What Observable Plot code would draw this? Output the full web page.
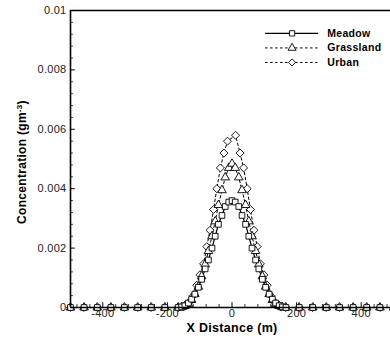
<!DOCTYPE html>
<html>
<head>
<meta charset="utf-8">
<script src="https://cdn.jsdelivr.net/npm/d3@7"></script>
<script src="https://cdn.jsdelivr.net/npm/@observablehq/plot@0.6"></script>
<style>
  html, body { margin: 0; padding: 0; background: #fff; width: 390px; height: 338px; overflow: hidden; }
  #chart { width: 390px; height: 338px; overflow: hidden; }
  #chart svg { max-width: none !important; }
</style>
</head>
<body>
<div id="chart"></div>
<script>
// ---- data ----
const seriesNames = ["Meadow", "Grassland", "Urban"];

const xMeadow = [-500, -458, -417, -375, -333, -292, -250, -208,
  -167, -156, -146, -135, -125, -115, -104, -94, -83, -73, -62, -52, -42, -31, -21, -10,
  0, 10, 21, 31, 42, 52, 62, 73, 83, 94, 104, 115, 125, 135, 146, 156, 167,
  208, 250, 292, 333, 375, 417, 458, 500];
const cMeadow = [0, 0, 0, 0, 0, 0, 0, 0,
  0, 0.00002, 0.00006, 0.00015, 0.00028, 0.00045, 0.00068, 0.00095, 0.0013, 0.0016, 0.0020, 0.0024, 0.0028, 0.0031, 0.0034, 0.00355,
  0.0036, 0.00355, 0.0034, 0.0031, 0.0028, 0.0024, 0.0020, 0.0016, 0.0013, 0.00095, 0.00068, 0.00045, 0.00028, 0.00015, 0.00006, 0.00002, 0,
  0, 0, 0, 0, 0, 0, 0, 0];

const xGrassland = [-500, -458, -417, -375, -333, -292, -250, -208,
  -167, -156, -146, -135, -125, -115, -104, -94, -83, -73, -62, -52, -42, -31, -21, -10,
  0, 10, 21, 31, 42, 52, 62, 73, 83, 94, 104, 115, 125, 135, 146, 156, 167,
  208, 250, 292, 333, 375, 417, 458, 500];
const cGrassland = [0, 0, 0, 0, 0, 0, 0, 0,
  0, 0.00001, 0.00005, 0.00012, 0.00025, 0.00045, 0.0007, 0.00105, 0.00145, 0.0019, 0.0024, 0.0029, 0.00345, 0.00395, 0.00438, 0.0047,
  0.00484, 0.0047, 0.00438, 0.00395, 0.00345, 0.0029, 0.0024, 0.0019, 0.00145, 0.00105, 0.0007, 0.00045, 0.00025, 0.00012, 0.00005, 0.00001, 0,
  0, 0, 0, 0, 0, 0, 0, 0];

const xUrban = [-500, -458, -417, -375, -333, -292, -250, -208,
  -167, -151, -141, -130, -120, -109, -99, -88, -78, -68, -57, -47, -36, -25, -14,
  11, 25, 36, 47, 57, 68, 78, 88, 99, 109, 120, 130, 141, 151, 167,
  208, 250, 292, 333, 375, 417, 458, 500];
const cUrban = [0, 0, 0, 0, 0, 0, 0, 0,
  0, 0.00002, 0.00007, 0.0002, 0.0004, 0.00075, 0.0011, 0.00147, 0.00205, 0.0026, 0.0033, 0.0040, 0.0047, 0.0052, 0.0056,
  0.0058, 0.0052, 0.0047, 0.0040, 0.0033, 0.0026, 0.00205, 0.00147, 0.0011, 0.00075, 0.0004, 0.0002, 0.00007, 0.00002, 0,
  0, 0, 0, 0, 0, 0, 0, 0];

const xTicks = [-400, -200, 0, 200, 400];
const xMinorTicks = [-480, -440, -360, -320, -280, -240, -160, -120, -80, -40, 40, 80, 120, 160, 240, 280, 320, 360, 440, 480];
const yTicks = [0, 0.002, 0.004, 0.006, 0.008, 0.01];
const yMinorTicks = [0.0004, 0.0008, 0.0012, 0.0016, 0.0024, 0.0028, 0.0032, 0.0036, 0.0044, 0.0048, 0.0052, 0.0056, 0.0064, 0.0068, 0.0072, 0.0076, 0.0084, 0.0088, 0.0092, 0.0096];

// ---- build tables ----
const toRows = (xs, ys, name) => xs.map((x, i) => ({x, c: ys[i], s: name}));
const meadow = toRows(xMeadow, cMeadow, "Meadow");
const grass = toRows(xGrassland, cGrassland, "Grassland");
const urban = toRows(xUrban, cUrban, "Urban");

const xDomain = [-500, 500];
const yDomain = [0, 0.01];

// legend rows in data coordinates (top-right of the frame)
const legendRows = seriesNames.map((s, i) => ({s, y: 0.00923 - i * 0.00049}));
const legendX1 = 104, legendX2 = 268, legendXm = 186, legendXt = 295;

const font = "Liberation Sans, Arial, Helvetica, sans-serif";
const dash = "2.5,2.5";

const plot = Plot.plot({
  width: 393,
  height: 338,
  marginLeft: 70,
  marginRight: 0,
  marginTop: 10,
  marginBottom: 31,
  style: {fontFamily: font, fontSize: "11px", color: "#111", background: "white", overflow: "visible", maxWidth: "none"},
  x: {domain: xDomain, axis: null},
  y: {domain: yDomain, axis: null},
  marks: [
    // ticks (inward)
    Plot.ruleY(yTicks, {x1: -500, x2: -485, stroke: "black", strokeWidth: 1}),
    Plot.ruleY(yMinorTicks, {x1: -500, x2: -491, stroke: "black", strokeWidth: 0.8}),
    Plot.ruleX(xTicks, {y1: 0, y2: 0.00016, stroke: "black", strokeWidth: 1}),
    Plot.ruleX(xMinorTicks, {y1: 0, y2: 0.0001, stroke: "black", strokeWidth: 0.8}),
    // tick labels
    Plot.axisY(yTicks, {anchor: "left", tickSize: 0, tickPadding: 4, label: null,
      tickFormat: d => d === 0 ? "0" : String(+d.toFixed(3)), fontSize: 11, fill: "#222"}),
    Plot.axisX(xTicks, {anchor: "bottom", tickSize: 0, tickPadding: 1.5, label: null,
      tickFormat: d => String(d), fontSize: 11, fill: "#222"}),
    // lines
    Plot.line(urban, {x: "x", y: "c", stroke: "black", strokeWidth: 1, strokeDasharray: dash}),
    Plot.line(grass, {x: "x", y: "c", stroke: "black", strokeWidth: 1, strokeDasharray: dash}),
    Plot.line(meadow, {x: "x", y: "c", stroke: "black", strokeWidth: 1.2}),
    // markers
    Plot.dot(urban, {x: "x", y: "c", symbol: "diamond2", r: 3.6, stroke: "black", strokeWidth: 0.9, fill: "white"}),
    Plot.dot(grass, {x: "x", y: "c", symbol: "triangle", r: 3.2, stroke: "black", strokeWidth: 0.9, fill: "white"}),
    Plot.dot(meadow, {x: "x", y: "c", symbol: "square", r: 3.2, stroke: "black", strokeWidth: 0.9, fill: "white"}),
    // frame: left, top, bottom (right side lies outside the window)
    Plot.ruleX([xDomain[0]], {stroke: "black", strokeWidth: 1.6}),
    Plot.ruleY(yDomain, {stroke: "black", strokeWidth: 1.6}),
    // legend
    Plot.ruleY(legendRows.filter(d => d.s === "Meadow"), {y: "y", x1: legendX1, x2: legendX2, stroke: "black", strokeWidth: 1.2}),
    Plot.ruleY(legendRows.filter(d => d.s !== "Meadow"), {y: "y", x1: legendX1, x2: legendX2, stroke: "black", strokeWidth: 1, strokeDasharray: dash}),
    Plot.dot(legendRows, {x: legendXm, y: "y", r: d => d.s === "Urban" ? 3.6 : 3.2,
      symbol: d => d.s === "Meadow" ? "square" : d.s === "Grassland" ? "triangle" : "diamond2",
      stroke: "black", strokeWidth: 0.9, fill: "white"}),
    Plot.text(legendRows, {x: legendXt, y: "y", text: "s", textAnchor: "start", fontWeight: "bold", fontSize: 10.5, fill: "black"}),
    // x axis title
    Plot.text(["X Distance (m)"], {x: 0, frameAnchor: "bottom", dy: 24, text: d => d, fontWeight: "bold", fontSize: 12.5, fill: "black"})
  ]
});

document.getElementById("chart").appendChild(plot);

// slightly wider tick label spacing, like the reference
d3.select(plot).selectAll("g[aria-label='y-axis tick label'] text, g[aria-label='x-axis tick label'] text")
  .attr("letter-spacing", "0.3px");
d3.select(plot).selectAll("g[aria-label='text'] text").attr("letter-spacing", "0.3px");

// y axis title with superscript
const svg = d3.select(plot);
const yt = svg.append("text")
  .attr("transform", "translate(26,162) rotate(-90)")
  .attr("text-anchor", "middle")
  .attr("font-family", font)
  .attr("font-weight", "bold")
  .attr("font-size", 12)
  .attr("letter-spacing", "0.3px")
  .attr("fill", "black");
yt.append("tspan").text("Concentration (gm");
yt.append("tspan").attr("dy", -4.5).attr("font-size", 8).text("-3");
yt.append("tspan").attr("dy", 4.5).text(")");
</script>
</body>
</html>
